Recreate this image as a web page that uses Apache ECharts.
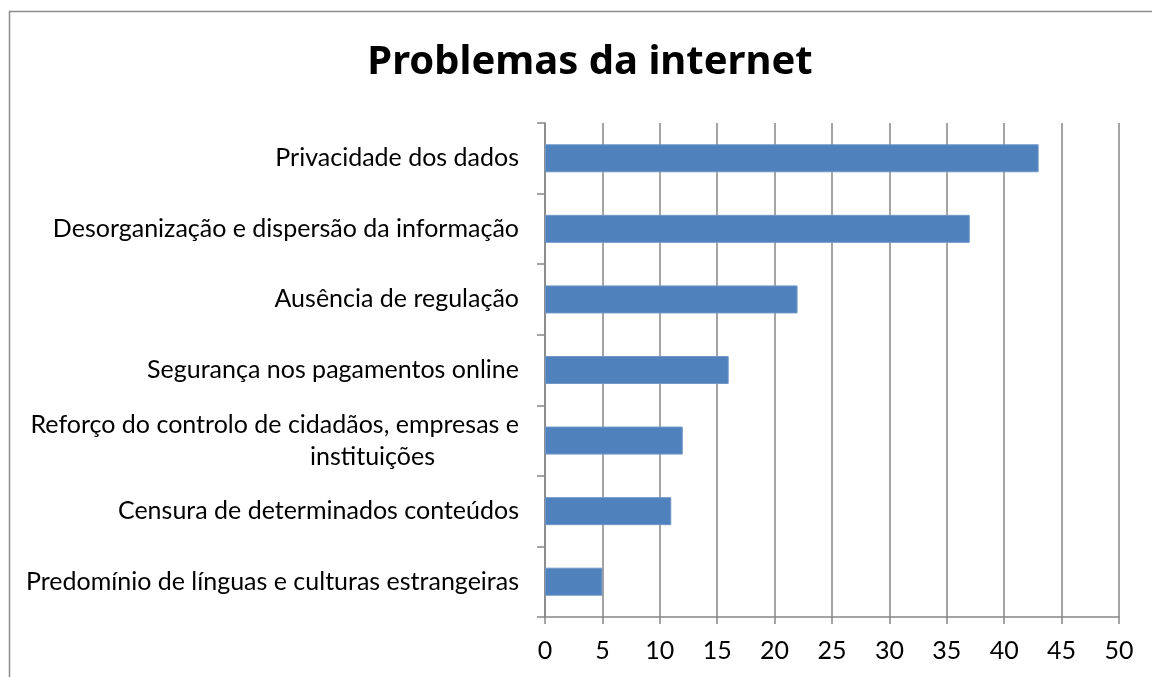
<!DOCTYPE html>
<html>
<head>
<meta charset="utf-8">
<script src="https://cdn.jsdelivr.net/npm/echarts@6/dist/echarts.min.js"></script>
<style>
  html, body { margin: 0; padding: 0; background: #fff; }
  #chart { width: 1152px; height: 677px; }
</style>
</head>
<body>
<div id="chart"></div>
<script>
const categories = [
  "Privacidade dos dados",
  "Desorganização e dispersão da informação",
  "Ausência de regulação",
  "Segurança nos pagamentos online",
  "Reforço do controlo de cidadãos, empresas e\ninstituições",
  "Censura de determinados conteúdos",
  "Predomínio de línguas e culturas estrangeiras"
]
const values = [43, 37, 22, 16, 12, 11, 5]
const xTicks = [0, 5, 10, 15, 20, 25, 30, 35, 40, 45, 50]

const chart = echarts.init(document.getElementById("chart"))
const font = "Lato"
const gridColor = "#868686"

chart.setOption({
  animation: false,
  title: {
    text: "Problemas da internet",
    left: 585,
    top: 38,
    textAlign: "center",
    textStyle: { fontFamily: "Noto Sans", fontSize: 40, fontWeight: "bold", color: "#000" }
  },
  graphic: [{
    type: "rect",
    shape: { x: 9.5, y: 11.5, width: 1200, height: 700 },
    style: { fill: "none", stroke: "#8c8c8c", lineWidth: 1.5 },
    silent: true
  }],
  grid: { left: 545, right: 33, top: 123, bottom: 60 },
  xAxis: {
    type: "value",
    min: 0,
    max: 50,
    interval: 5,
    axisLine: { show: true, lineStyle: { color: gridColor, width: 1.5 } },
    axisTick: { show: true, length: 7, lineStyle: { color: gridColor, width: 1.5 } },
    splitLine: { show: true, lineStyle: { color: gridColor, width: 1.5 } },
    axisLabel: {
      color: "#000", fontFamily: font, fontSize: 25, margin: 21,
      formatter: v => xTicks.includes(v) ? String(v) : ""
    }
  },
  yAxis: {
    type: "category",
    inverse: true,
    data: categories,
    axisLine: { show: true, lineStyle: { color: gridColor, width: 1.5 } },
    axisTick: { show: true, length: 8, lineStyle: { color: gridColor, width: 1.5 } },
    axisLabel: {
      color: "#000", fontFamily: font, fontSize: 25, margin: 26, lineHeight: 32,
      formatter: v => {
        const parts = v.split("\n")
        if (parts.length === 1) return v
        return parts[0] + "\n{b|" + parts[1] + "}"
      },
      rich: {
        b: { color: "#000", fontFamily: font, fontSize: 25, lineHeight: 32, padding: [0, 84, 0, 0] }
      }
    }
  },
  series: [{
    type: "bar",
    data: values,
    barWidth: 28,
    itemStyle: { color: "#4F81BD", borderColor: "#6f97c8", borderWidth: 1 }
  }]
})
</script>
</body>
</html>
